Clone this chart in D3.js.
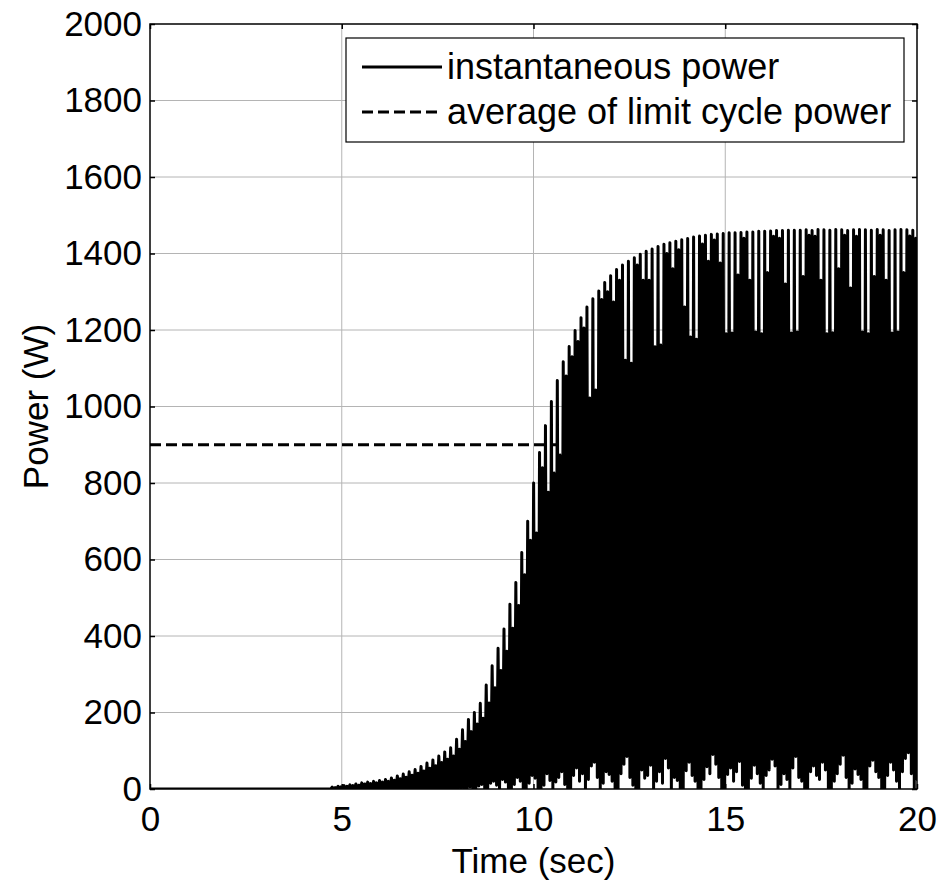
<!DOCTYPE html>
<html>
<head>
<meta charset="utf-8">
<script src="https://cdn.jsdelivr.net/npm/d3@7"></script>
<style>
    body { margin: 0; background: #fff; }
    text { font-family: "Liberation Sans", Arial, Helvetica, sans-serif; fill: #000; }
</style>
</head>
<body>
<div id="chart"></div>
<script>
'use strict';

// axis ticks
const xTicks = [0, 5, 10, 15, 20];
const yTicks = [0, 200, 400, 600, 800, 1000, 1200, 1400, 1600, 1800, 2000];

const cycleStart = 4.75;     // s
const cyclePeriod = 0.1545;  // s
const tipPower = [
    5, 7, 9, 11, 13, 16, 18, 20, 22, 25,
    29, 34, 39, 45, 51, 59, 68, 76, 86, 97,
    108, 130, 155, 182, 200, 224, 272, 322, 368, 418,
    483, 540, 618, 700, 800, 880, 950, 1013, 1068, 1117,
    1157, 1199, 1232, 1260, 1282, 1302, 1324, 1342, 1358, 1370,
    1380, 1389, 1398, 1406, 1412, 1418, 1424, 1428, 1432, 1436,
    1439, 1443, 1446, 1448, 1450, 1451, 1452, 1454, 1454, 1455,
    1456, 1456, 1458, 1458, 1459, 1460, 1460, 1461, 1461, 1461,
    1462, 1460, 1463, 1462, 1461, 1463, 1462, 1460, 1462, 1463,
    1462, 1461, 1463, 1462, 1460, 1462, 1463, 1462, 1461
];
const midPower = [
    4, 6, 7, 9, 10, 13, 14, 16, 18, 20,
    23, 27, 31, 36, 41, 47, 54, 61, 69, 78,
    86, 104, 124, 150, 170, 185, 225, 265, 310, 360,
    420, 480, 560, 650, 669, 840, 776, 826, 873, 1080,
    1130, 1170, 1205, 1022, 1043, 1280, 1300, 1273, 1330, 1121,
    1113, 1370, 1330, 1330, 1156, 1161, 1400, 1360, 1410, 1260,
    1182, 1176, 1425, 1380, 1435, 1375, 1190, 1192, 1344, 1440,
    1330, 1195, 1190, 1350, 1445, 1440, 1320, 1192, 1195, 1340,
    1448, 1445, 1330, 1190, 1193, 1360, 1448, 1310, 1445, 1195,
    1190, 1340, 1448, 1330, 1192, 1195, 1350, 1446, 1440
];
// two troughs per cycle
const troughPower = [
    0, 0, 0, 0, 0, 0, 0, 0, 0, 0, 0, 0, 0, 0, 0, 0, 0, 0, 0, 0,
    0, 0, 0, 0, 0, 0, 0, 0, 0, 0, 0, 0, 0, 0, 0, 0, 0, 0, 0, 0,
    0, 0, 0, 3, 0, 0, 5, 0, 0, 8, 12, 0, 0, 15, 20, 10, 0, 25, 18, 0,
    0, 12, 30, 20, 0, 0, 15, 35, 28, 0, 0, 10, 40, 22, 0, 18, 30, 45, 12, 0,
    0, 35, 55, 20, 40, 0, 25, 60, 70, 30, 0, 15, 45, 38, 20, 0, 0, 40, 65, 85,
    30, 10, 0, 0, 50, 28, 35, 62, 0, 20, 45, 15, 80, 55, 0, 30, 22, 0, 0, 48,
    70, 35, 20, 0, 0, 25, 58, 40, 90, 65, 30, 0, 0, 38, 55, 20, 45, 72, 10, 0,
    0, 28, 62, 40, 15, 0, 35, 50, 78, 60, 0, 12, 40, 25, 0, 55, 85, 30, 20, 0,
    0, 45, 60, 35, 25, 70, 50, 0, 0, 20, 40, 65, 88, 30, 0, 15, 52, 38, 25, 0,
    0, 60, 75, 45, 30, 0, 0, 35, 70, 50, 20, 0, 45, 80, 95, 40, 0, 25
];

// average of limit cycle power
const avgPower = 900;
const avgSpan = [0, 10.6];

const legendLabels = ['instantaneous power', 'average of limit cycle power'];

class PowerChart {
    constructor(container, width, height, margin) {
        this.width = width - margin[1] - margin[3];
        this.height = height - margin[0] - margin[2];
        this.margin = margin;

        this.svg = d3.select(container)
            .append('svg')
            .attr('width', width)
            .attr('height', height);

        this.chart = this.svg.append('g')
            .attr('transform', `translate(${margin[3]},${margin[0]})`);

        this.scaleX = d3.scaleLinear().domain([0, 20]).range([0, this.width]);
        this.scaleY = d3.scaleLinear().domain([0, 2000]).range([this.height, 0]);
    }

    drawAxes() {
        const g = this.chart;
        const x = this.scaleX, y = this.scaleY;

        // grid
        g.append('g').selectAll('line').data(xTicks.slice(1, -1)).join('line')
            .attr('x1', d => x(d)).attr('x2', d => x(d))
            .attr('y1', 0).attr('y2', this.height)
            .attr('stroke', '#b4b4b4').attr('stroke-width', 1);
        g.append('g').selectAll('line').data(yTicks.slice(1, -1)).join('line')
            .attr('x1', 0).attr('x2', this.width)
            .attr('y1', d => y(d)).attr('y2', d => y(d))
            .attr('stroke', '#b4b4b4').attr('stroke-width', 1);

        const style = sel => {
            sel.select('.domain').remove();
            sel.selectAll('line').attr('stroke', '#000').attr('stroke-width', 1.5);
            sel.selectAll('text').style('font-size', '35px');
        };
        const plain = d3.format('d');

        g.append('g')
            .attr('transform', `translate(0,${this.height})`)
            .call(d3.axisBottom(x).tickValues(xTicks).tickFormat(plain)
                .tickSizeInner(-5).tickSizeOuter(0).tickPadding(17))
            .call(style);
        g.append('g')
            .call(d3.axisLeft(y).tickValues(yTicks).tickFormat(plain)
                .tickSizeInner(-5).tickSizeOuter(0).tickPadding(8))
            .call(style);
        g.append('g')
            .call(d3.axisTop(x).tickValues(xTicks).tickSizeInner(-5).tickSizeOuter(0).tickFormat(''))
            .call(style);
        g.append('g')
            .attr('transform', `translate(${this.width},0)`)
            .call(d3.axisRight(y).tickValues(yTicks).tickSizeInner(-5).tickSizeOuter(0).tickFormat(''))
            .call(style);

        g.selectAll('.tick text').attr('fill', '#000');

        this.svg.append('text')
            .attr('x', this.margin[3] + this.width / 2)
            .attr('y', 873)
            .attr('text-anchor', 'middle')
            .style('font-size', '35px')
            .text('Time (sec)');

        this.svg.append('text')
            .attr('transform', `translate(48,${this.margin[0] + this.height / 2}) rotate(-90)`)
            .attr('text-anchor', 'middle')
            .style('font-size', '35px')
            .text('Power (W)');
    }

    render() {
        const x = this.scaleX, y = this.scaleY;

        const power = [{ t: 0, p: 0 }, { t: cycleStart - cyclePeriod / 4, p: 0 }];
        tipPower.forEach((tip, i) => {
            const t = cycleStart + i * cyclePeriod;
            power.push({ t: t, p: tip });
            power.push({ t: t + cyclePeriod / 4, p: troughPower[2 * i] });
            power.push({ t: t + cyclePeriod / 2, p: midPower[i] });
            power.push({ t: t + 3 * cyclePeriod / 4, p: troughPower[2 * i + 1] });
        });

        this.svg.append('clipPath').attr('id', 'plot-clip')
            .append('rect').attr('width', this.width).attr('height', this.height);

        const line = d3.line().x(d => x(d.t)).y(d => y(d.p));

        const plot = this.chart.append('g').attr('clip-path', 'url(#plot-clip)');

        plot.append('path')
            .datum(power)
            .attr('d', line)
            .attr('fill', 'none')
            .attr('stroke', '#000')
            .attr('stroke-width', 3)
            .attr('stroke-linejoin', 'round')
            .attr('stroke-linecap', 'round');

        plot.append('path')
            .datum(avgSpan.map(t => ({ t: t, p: avgPower })))
            .attr('d', line)
            .attr('fill', 'none')
            .attr('stroke', '#000')
            .attr('stroke-width', 3)
            .attr('stroke-dasharray', '11,5');

        // frame
        this.chart.append('rect')
            .attr('width', this.width).attr('height', this.height)
            .attr('fill', 'none').attr('stroke', '#000').attr('stroke-width', 1.5);

        this.drawLegend();
    }

    drawLegend() {
        const lg = this.svg.append('g');
        lg.append('rect')
            .attr('x', 346).attr('y', 38).attr('width', 558).attr('height', 104)
            .attr('fill', '#fff').attr('stroke', '#000').attr('stroke-width', 1.2);

        const rows = lg.selectAll('g.row').data(legendLabels).join('g')
            .attr('class', 'row')
            .attr('transform', (d, i) => `translate(0,${67 + i * 45})`);
        rows.append('line')
            .attr('x1', 362).attr('x2', 442)
            .attr('stroke', '#000').attr('stroke-width', 3)
            .attr('stroke-dasharray', (d, i) => i ? '11,5' : null);
        rows.append('text')
            .attr('x', 447).attr('y', 12)
            .style('font-size', '36px')
            .text(d => d);
    }
}

const chart = new PowerChart('#chart', 942, 884, [24, 25, 95, 150]);
chart.drawAxes();
chart.render();
</script>
</body>
</html>
